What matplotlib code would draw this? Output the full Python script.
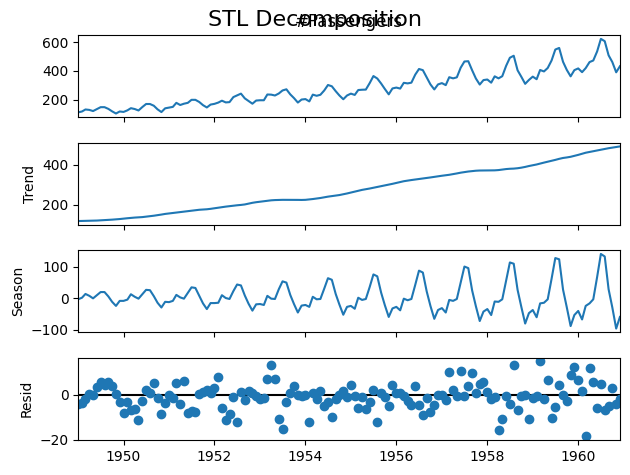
import numpy as np
import pandas as pd
import matplotlib
matplotlib.use('Agg')
import matplotlib.pyplot as plt

# monthly airline passengers 1949-1960
passengers = [
    112, 118, 132, 129, 121, 135, 148, 148, 136, 119, 104, 118,
    115, 126, 141, 135, 125, 149, 170, 170, 158, 133, 114, 140,
    145, 150, 178, 163, 172, 178, 199, 199, 184, 162, 146, 166,
    171, 180, 193, 181, 183, 218, 230, 242, 209, 191, 172, 194,
    196, 196, 236, 235, 229, 243, 264, 272, 237, 211, 180, 201,
    204, 188, 235, 227, 234, 264, 302, 293, 259, 229, 203, 229,
    242, 233, 267, 269, 270, 315, 364, 347, 312, 274, 237, 278,
    284, 277, 317, 313, 318, 374, 413, 405, 355, 306, 271, 306,
    315, 301, 356, 348, 355, 422, 465, 467, 404, 347, 305, 336,
    340, 318, 362, 348, 363, 435, 491, 505, 404, 359, 310, 337,
    360, 342, 406, 396, 420, 472, 548, 559, 463, 407, 362, 405,
    417, 391, 419, 461, 472, 535, 622, 606, 508, 461, 390, 432,
]

trend = [
    119, 119.5, 120, 120.5, 121, 121.5, 122.5, 123.5, 124.5, 126, 127.5, 129,
    131.3, 133.1, 134.9, 136.4, 137.4, 138.8, 140.9, 143.2, 145.7, 148.4, 151.5, 154.7,
    157.1, 159.5, 161.8, 164.1, 166.7, 169.1, 171.3, 173.6, 175.5, 176.8, 178.0, 180.2,
    183.1, 186.2, 189.0, 191.3, 193.6, 195.8, 198.0, 199.8, 202.2, 206.3, 210.4, 213.4,
    215.8, 218.5, 220.9, 222.9, 224.1, 224.7, 225.3, 225.3, 225.0, 224.9, 225.0, 224.7,
    225.3, 227.2, 229.3, 231.7, 234.5, 237.9, 241.3, 244.0, 246.7, 249.3, 253.2, 257.2,
    261.8, 266.7, 271.1, 275.2, 278.5, 282.0, 285.8, 289.3, 293.3, 297.2, 301.0, 305.5,
    310.0, 314.4, 318.6, 321.8, 324.5, 327.1, 329.5, 331.8, 334.5, 337.5, 340.5, 343.1,
    346.0, 348.3, 350.8, 354.0, 357.6, 361.4, 364.5, 367.2, 369.5, 371.2, 372.2, 372.4,
    372.7, 372.9, 373.1, 374.5, 377.0, 379.5, 381.0, 381.8, 383.7, 386.5, 390.3, 394.7,
    398.6, 402.5, 407.2, 411.9, 416.3, 420.5, 425.5, 430.7, 435.1, 437.7, 441.0, 445.8,
    450.6, 456.3, 461.4, 465.2, 469.3, 472.8, 476, 480, 484, 487, 490, 493,
]

season = [
    -3, 2, 14, 8, 0, 10, 20, 20, 6, -11, -24, -8,
    -8, -4, 13, 5, -1, 13, 27, 26, 7, -14, -29, -11,
    -12, -8, 11, 3, -1, 17, 35, 33, 8, -16, -34, -15,
    -15, -14, 10, 1, -2, 23, 44, 41, 9, -17, -39, -19,
    -18, -21, 8, -1, -2, 29, 54, 50, 11, -18, -45, -23,
    -21, -27, 5, -3, -2, 31, 64, 59, 14, -20, -52, -27,
    -24, -33, 2, -5, -2, 36, 76, 70, 18, -22, -59, -32,
    -27, -38, -1, -6, -2, 43, 88, 82, 22, -24, -65, -37,
    -31, -45, -5, -8, -2, 50, 101, 96, 25, -25, -72, -42,
    -34, -53, -10, -11, -3, 56, 114, 110, 27, -27, -80, -47,
    -37, -60, -16, -14, -3, 62, 128, 124, 28, -28, -88, -53,
    -40, -67, -24, -16, -3, 68, 141, 133, 29, -29, -96, -59,
]

dates = pd.date_range('1949-01-01', periods=len(passengers), freq='MS')
observed = np.array(passengers, dtype=float)
trend = np.array(trend)
season = np.array(season, dtype=float)
resid = observed - trend - season

fig, axs = plt.subplots(4, 1, sharex=True, figsize=(6.3, 4.75), dpi=100)
fig.subplots_adjust(left=0.124, right=0.984, top=0.926, bottom=0.074, hspace=0.31)
xlim = (dates[0], dates[-1])

axs[0].plot(dates, observed)
axs[0].set_title('#Passengers')
axs[0].set_yticks([200, 400, 600])
axs[1].plot(dates, trend)
axs[1].set_ylabel('Trend')
axs[1].set_yticks([200, 400])
axs[2].plot(dates, season)
axs[2].set_ylabel('Season')
axs[3].plot(dates, resid, marker='o', linestyle='none')
axs[3].plot(xlim, (0, 0), color='#000000', zorder=-3)
axs[3].set_ylabel('Resid')

for ax in axs:
    ax.set_xlim(xlim)

fig.suptitle('STL Decomposition', fontsize=16)
fig.savefig('out.png')
